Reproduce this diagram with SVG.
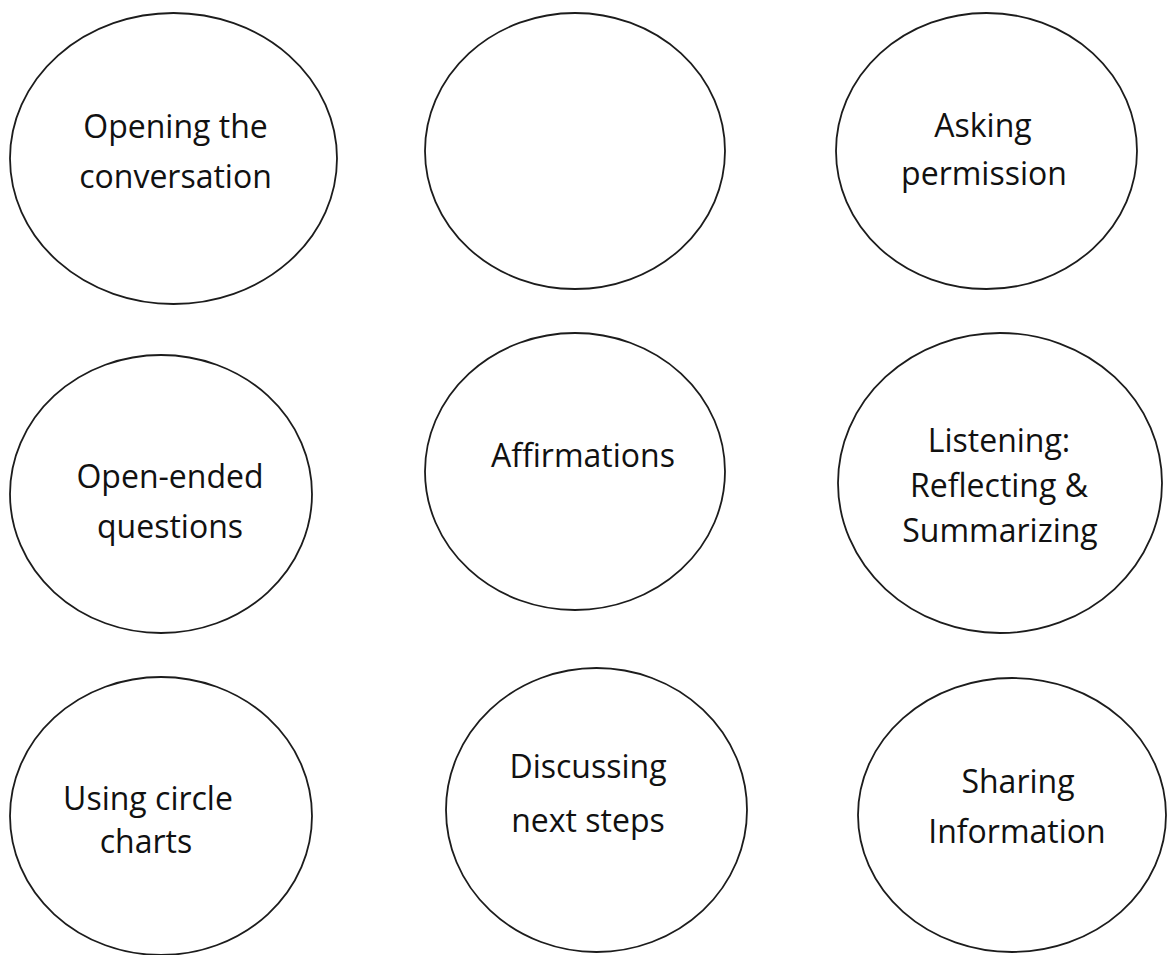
<svg xmlns="http://www.w3.org/2000/svg" width="1167" height="955" viewBox="0 0 1167 955">
  <style>
    .bubble { fill: #ffffff; stroke: #1c1c1c; stroke-width: 1.8; }
    .label { font-family: "Open Sans", "Noto Sans", "Liberation Sans", sans-serif; font-size: 32px; fill: #111111; text-anchor: middle; }
  </style>
  <rect width="1167" height="955" fill="#ffffff"/>
  <g id="connectors"/>

  <!-- top row -->
  <g id="node-opening">
    <ellipse class="bubble" cx="173.5" cy="158.5" rx="163.5" ry="145.5"/>
    <text class="label" x="175.5" y="138">Opening the</text>
    <text class="label" x="175.5" y="188">conversation</text>
  </g>
  <g id="node-blank">
    <ellipse class="bubble" cx="575" cy="151" rx="150" ry="138"/>
  </g>
  <g id="node-permission">
    <ellipse class="bubble" cx="986.5" cy="151" rx="150.5" ry="138"/>
    <text class="label" x="983" y="137">Asking</text>
    <text class="label" x="984" y="185">permission</text>
  </g>

  <!-- middle row -->
  <g id="node-open-ended">
    <ellipse class="bubble" cx="161" cy="494" rx="151" ry="139"/>
    <text class="label" x="170" y="488">Open-ended</text>
    <text class="label" x="170" y="538">questions</text>
  </g>
  <g id="node-affirmations">
    <ellipse class="bubble" cx="575" cy="471.5" rx="150" ry="138.5"/>
    <text class="label" x="583" y="467">Affirmations</text>
  </g>
  <g id="node-listening">
    <ellipse class="bubble" cx="1000" cy="483" rx="162" ry="150"/>
    <text class="label" x="999" y="452">Listening:</text>
    <text class="label" x="999" y="497">Reflecting &amp;</text>
    <text class="label" x="1000" y="542">Summarizing</text>
  </g>

  <!-- bottom row -->
  <g id="node-circle-charts">
    <ellipse class="bubble" cx="161" cy="816" rx="151" ry="139"/>
    <text class="label" x="148" y="810">Using circle</text>
    <text class="label" x="146" y="853">charts</text>
  </g>
  <g id="node-next-steps">
    <ellipse class="bubble" cx="596.5" cy="810" rx="150.5" ry="142"/>
    <text class="label" x="588" y="778">Discussing</text>
    <text class="label" x="588" y="832">next steps</text>
  </g>
  <g id="node-sharing">
    <ellipse class="bubble" cx="1012" cy="815" rx="154" ry="137"/>
    <text class="label" x="1018" y="793">Sharing</text>
    <text class="label" x="1017" y="843">Information</text>
  </g>
</svg>
